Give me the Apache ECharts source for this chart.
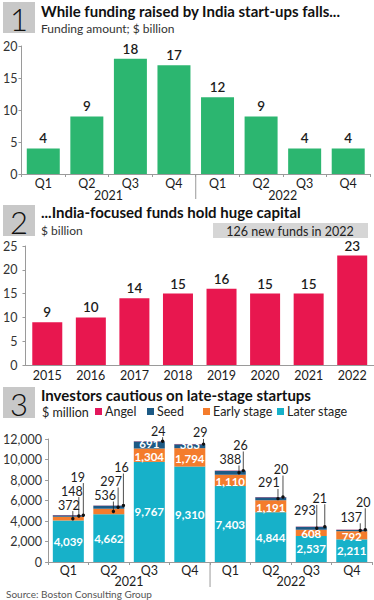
<!DOCTYPE html>
<html>
<head>
<meta charset="utf-8">
<script src="https://cdn.jsdelivr.net/npm/echarts@6/dist/echarts.min.js"></script>
<style>
html,body{margin:0;padding:0;background:#fff;}
#c{width:374px;height:600px;}
</style>
</head>
<body>
<div id="c"></div>
<script>
// ---- data ----
const quarters = ['Q1','Q2','Q3','Q4','Q1','Q2','Q3','Q4'];
const years = ['2021','2022'];
const funding = [4,9,18,17,12,9,4,4];
const fundYears = ['2015','2016','2017','2018','2019','2020','2021','2022'];
const fundCapital = [9,10,14,15,16,15,15,23];
const angel = [19,16,24,29,26,20,21,20];
const seed = [148,297,691,383,388,291,293,137];
const early = [372,536,1304,1794,1110,1191,608,792];
const later = [4039,4662,9767,9310,7403,4844,2537,2211];
const yTicks1 = [0,5,10,15,20];
const yTicks2 = [0,5,10,15,20,25];
const yTicks3 = [0,2000,4000,6000,8000,10000,12000];

// ---- style / layout ----
const FONT = 'Lato';
const GREEN = '#2cb670', RED = '#e8174f', CYAN = '#17b1c9', ORANGE = '#f47c2c', NAVY = '#1d5a85', PINK = '#e3175c';
const AXIS = '#9a9a9a', TXT = '#1c1c1c';
const earlyInside = [false,false,true,true,true,true,true,true];
const seedInside = [false,false,true,true,false,false,false,false];
// callout placement relative to bar centre / bar top (pixels)
const calloutLayout = [
  [{s:'early',dx:4.5,lx:0.5,rise:10},{s:'seed',dx:10.5,lx:3.5,rise:24},{s:'angel',dx:15,lx:9.5,rise:38}],
  [{s:'early',dx:4.6,lx:-3.7,rise:10},{s:'seed',dx:9.3,lx:2.3,rise:24},{s:'angel',dx:14.6,lx:12.8,rise:38}],
  [{s:'angel',dx:13.3,lx:9,rise:10}],
  [{s:'angel',dx:13.7,lx:10.5,rise:11}],
  [{s:'seed',dx:8.7,lx:0,rise:11},{s:'angel',dx:13,lx:10.3,rise:25}],
  [{s:'seed',dx:7.2,lx:-2,rise:14},{s:'angel',dx:12.2,lx:10.2,rise:27.4}],
  [{s:'seed',dx:5.5,lx:-6.5,rise:15.6},{s:'angel',dx:13.5,lx:8.5,rise:28.3}],
  [{s:'seed',dx:8.5,lx:-0.5,rise:12.3},{s:'angel',dx:13.5,lx:11.5,rise:27.3}]
];

const fmt = v => Number(v).toLocaleString('en-US');
const splitIdx = quarters.length / years.length - 1;

function separator(params, api) {
  const c = api.coord([api.value(0), 0]);
  const half = api.size([1, 0])[0] / 2;
  return {type:'line', shape:{x1:c[0]+half, y1:c[1], x2:c[0]+half, y2:c[1]+25}, style:{stroke:AXIS, lineWidth:1}};
}

function calloutRender(params, api) {
  const i = api.value(0);
  const cfg = calloutLayout[i];
  const cx = api.coord([i, 0])[0];
  const bounds = {}; let acc = 0;
  [['later', later],['early', early],['seed', seed],['angel', angel]].forEach(([k, arr]) => { bounds[k] = [acc, acc + arr[i]]; acc += arr[i]; });
  const yt = api.coord([i, acc])[1];
  const src = {early, seed, angel};
  const children = [];
  cfg.forEach(c => {
    const b = bounds[c.s];
    const dy = api.coord([i, (b[0] + b[1]) / 2])[1];
    const dx = cx + c.dx;
    const lx = cx + c.lx, ly = yt - c.rise;
    const txt = fmt(src[c.s][i]);
    const halfW = txt.length * 3.6;
    const lineTop = Math.abs(dx - lx) < halfW ? ly + 6 : ly - 6;
    children.push({type:'line', shape:{x1:dx, y1:dy, x2:dx, y2:lineTop}, style:{stroke:'#222', lineWidth:0.8}});
    children.push({type:'circle', shape:{cx:dx, cy:dy, r:1.7}, style:{fill:'#111'}});
    children.push({type:'text', style:{text:txt, x:lx, y:ly, align:'center', verticalAlign:'middle', fontSize:12.5, lineHeight:12, fontFamily:FONT, fill:TXT}});
  });
  return {type:'group', children};
}

const valAxis = (grid, ticks, margin, formatter) => ({
  gridIndex: grid, type:'value', min: ticks[0], max: ticks[ticks.length-1], interval: ticks[1]-ticks[0],
  splitLine:{show:false},
  axisLine:{show:true, lineStyle:{color:AXIS}},
  axisTick:{show:true, length:3, lineStyle:{color:AXIS}},
  axisLabel:{color:'#333', fontSize:12.5, fontFamily:FONT, margin, formatter}
});
const catAxis = (grid, data, margin, extra) => Object.assign({
  gridIndex: grid, type:'category', data,
  axisLine:{show:true, lineStyle:{color:AXIS}},
  axisTick:{show:true, length:3, lineStyle:{color:AXIS}},
  axisLabel:{color:TXT, fontSize:12.5, fontFamily:FONT, margin, interval:0}
}, extra || {});
const yearAxis = (grid, margin) => ({
  gridIndex: grid, type:'category', data: years, position:'bottom',
  axisLine:{show:false}, axisTick:{show:false},
  axisLabel:{color:TXT, fontSize:12.5, fontFamily:FONT, margin, interval:0}
});

const stackSeries = (name, arr, color, insideFlags, dy) => ({
  name, type:'bar', stack:'t', xAxisIndex:3, yAxisIndex:2, barWidth:31,
  itemStyle:{color},
  data: arr.map((v, i) => ({value: v, label: {show: insideFlags ? insideFlags[i] : false}})),
  label:{position:'inside', offset:[0, dy || 0], color:'#fff', fontSize:11.5, fontWeight:'bold', fontFamily:FONT, formatter: p => fmt(p.value)}
});

const legendItem = (name, left) => ({
  data:[name], left, top:405, icon:'rect', itemWidth:7, itemHeight:7, itemGap:0,
  selectedMode:false, padding:0,
  textStyle:{color:'#222', fontSize:12.5, fontFamily:FONT, padding:[0,0,0,-2]}
});

const boxText = (n, y) => ([
  {type:'rect', shape:{x:3, y:y, width:32, height:31}, style:{fill:'#c8c8c8'}},
  {type:'text', x:19, y:y+16.5, style:{text:n, align:'center', verticalAlign:'middle', fontSize:31, lineHeight:26, fontWeight:300, fontFamily:FONT, fill:'#111'}}
]);
const txt = (x, y, text, size, weight, color, align) => ({
  type:'text', x, y, style:{text, align: align || 'left', verticalAlign:'middle', fontSize:size, fontWeight:weight || 'normal', fontFamily:FONT, fill: color || TXT}
});

const option = {
  animation: false,
  textStyle:{fontFamily:FONT},
  grid: [
    {left:20, top:46, width:350, height:128},
    {left:24, top:246, width:351, height:119},
    {left:43, top:439, width:329, height:123}
  ],
  xAxis: [
    catAxis(0, quarters, 3),
    yearAxis(0, 15),
    catAxis(1, fundYears, 4, {axisTick:{show:false}}),
    catAxis(2, quarters, 2),
    yearAxis(2, 13)
  ],
  yAxis: [
    valAxis(0, yTicks1, 4),
    valAxis(1, yTicks2, 8),
    valAxis(2, yTicks3, 6, v => fmt(v))
  ],
  legend: [
    legendItem('Angel', 95),
    legendItem('Seed', 147),
    legendItem('Early stage', 203),
    legendItem('Later stage', 277)
  ],
  graphic: [
    ...boxText('1', 2),
    txt(41, 11, 'While funding raised by India start-ups falls...', 15, 'bold', '#111'),
    txt(41, 28, 'Funding amount; $ billion', 12, 'normal', '#333'),
    ...boxText('2', 205),
    txt(41, 212, '...India-focused funds hold huge capital', 15, 'bold', '#111'),
    txt(41, 230, '$ billion', 12, 'normal', '#333'),
    {type:'rect', shape:{x:213, y:223, width:155, height:15}, style:{fill:'#d6d6d6'}},
    txt(290, 231, '126 new funds in 2022', 12.5, 'normal', '#222', 'center'),
    ...boxText('3', 387),
    txt(41, 395, 'Investors cautious on late-stage startups', 15, 'bold', '#111'),
    txt(42, 412, '$ million', 12.5, 'normal', '#222'),
    txt(6, 593.5, 'Source: Boston Consulting Group', 10, 'normal', '#555')
  ],
  series: [
    {type:'bar', xAxisIndex:0, yAxisIndex:0, data: funding, barWidth:33, itemStyle:{color:GREEN},
     label:{show:true, position:'top', distance:3, color:TXT, fontSize:13.5, fontWeight:600, fontFamily:FONT}},
    {type:'custom', xAxisIndex:0, yAxisIndex:0, data:[[splitIdx]], encode:{x:0}, renderItem:separator, silent:true, clip:false, z:5},
    {type:'bar', xAxisIndex:2, yAxisIndex:1, data: fundCapital, barWidth:30, itemStyle:{color:RED},
     label:{show:true, position:'top', distance:3, color:TXT, fontSize:13.5, fontWeight:600, fontFamily:FONT}},
    stackSeries('Later stage', later, CYAN, later.map(() => true), 0),
    stackSeries('Early stage', early, ORANGE, earlyInside, 1),
    stackSeries('Seed', seed, NAVY, seedInside, -1.5),
    stackSeries('Angel', angel, PINK, null, 0),
    {type:'custom', xAxisIndex:3, yAxisIndex:2, data: later.map((_, i) => [i]), encode:{x:0}, renderItem:calloutRender, silent:true, clip:false, z:6},
    {type:'custom', xAxisIndex:3, yAxisIndex:2, data:[[splitIdx]], encode:{x:0}, renderItem:separator, silent:true, clip:false, z:5}
  ]
};

const chart = echarts.init(document.getElementById('c'), null, {renderer:'svg', width:374, height:600});
chart.setOption(option);
</script>
</body>
</html>
